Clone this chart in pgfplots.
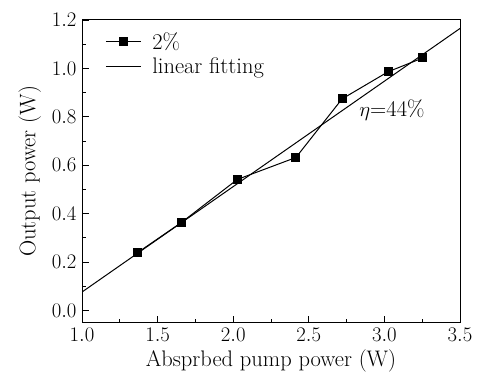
\documentclass[border=0pt]{standalone}
\usepackage{pgfplots}
\pgfplotsset{compat=1.18}
\pgfplotsset{
  marklegend/.style={legend image code/.code={\draw[mark repeat=2,mark phase=2,##1] plot coordinates {(0pt,0pt) (17.5pt,0pt) (35pt,0pt)};}},
  linelegend/.style={legend image code/.code={\draw[##1] (0pt,0pt) -- (35pt,0pt);}},
}
\newcommand{\fs}{\fontsize{21.5}{25}\selectfont}
\newcommand{\fl}{\fontsize{22.5}{26}\selectfont}
\begin{document}
\begin{tikzpicture}
\begin{axis}[
  name=ax,
  scale only axis,
  width=378pt, height=303pt,
  xmin=1.0, xmax=3.5, ymin=-0.052, ymax=1.2,
  xtick={1.0,1.5,...,3.5}, ytick={0,0.2,...,1.2},
  minor x tick num=1, minor y tick num=1,
  tick align=inside, xtick pos=bottom, ytick pos=left,
  major tick length=7pt, minor tick length=4pt,
  tick style={black, line width=0.9pt},
  axis line style={line width=1pt},
  /pgf/number format/fixed, /pgf/number format/fixed zerofill, /pgf/number format/precision=1,
  ticklabel style={font=\fs},
  yticklabel style={xshift=-2pt},
  xticklabel style={yshift=-2pt},
  label style={font=\fl},
  xlabel={Absprbed pump power (W)},
  ylabel={Output power (W)},
  xlabel style={yshift=-1pt},
  ylabel style={yshift=4pt},
  legend style={at={(0.061,0.965)}, anchor=north west, draw=none, fill=none, font=\fl, row sep=3pt, column sep=9pt, inner sep=0pt},
  legend cell align=left,
]
\addplot[black, line width=1pt, mark=square*, mark size=4pt, marklegend]
  coordinates {(1.368,0.239) (1.659,0.364) (2.027,0.541) (2.415,0.632) (2.720,0.874) (3.024,0.986) (3.253,1.043)};
\addlegendentry{2\%}
\addplot[black, line width=1pt, no marks, linelegend]
  coordinates {(1.0,0.076) (3.5,1.165)};
\addlegendentry{linear fitting}
\node[font=\fl, anchor=center] at (axis cs:3.05,0.827) {$\eta$=44\%};
\end{axis}
\path (ax.south west) ++(-82pt,-56pt);
\path (ax.north east) ++(18pt,20pt);
\end{tikzpicture}
\end{document}
